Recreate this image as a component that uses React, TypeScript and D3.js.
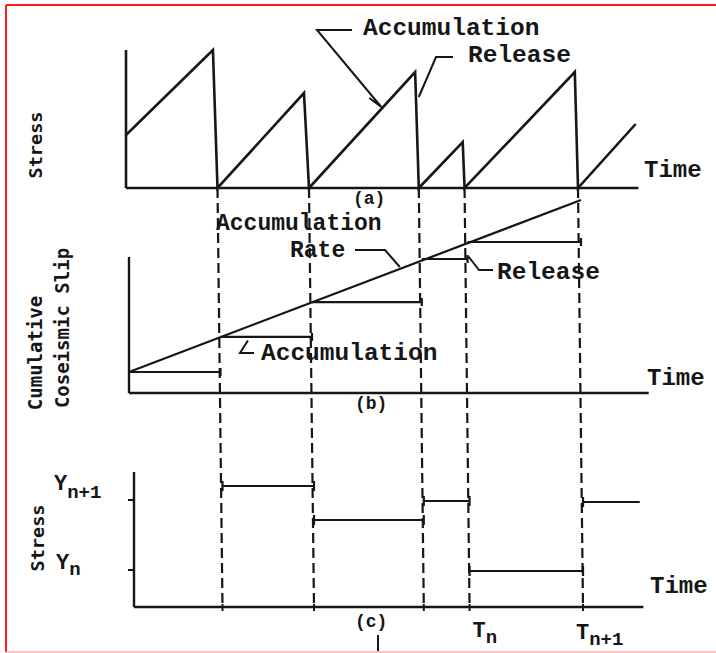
import React from "react";
import * as d3 from "d3";

// ---------- data ----------
// event (earthquake) times, arbitrary time units
const eventTimes = [1.0, 2.0, 3.2, 3.7, 4.94];
// (a) stress sawtooth
const stressStartValue = 5.3;
const stressPeakTimes = [0.95, 1.945, 3.16, 3.68, 4.905];
const stressPeakValues = [13.8, 9.5, 11.6, 4.6, 11.6];
const stressTailTime = 5.57;
const stressTailValue = 6.4;
// (b) cumulative coseismic slip
const slipStepValues = [1.0, 2.67, 4.33, 6.38, 7.19];
const slipRateStartValue = 1.0;
const slipRateEndValue = 9.19;
// (c) stress level between events
const stressLevels = [12.1, 8.7, 10.6, 3.6, 10.5];
const stressLevelEndTime = 5.56;
const stressTickValues = [10.7, 3.7];
const stressTickSubs = ["n+1", "n"];
const timeTickSubs = ["n", "n+1"];

const W = 716;
const H = 653;
const INK = "#161616";
const TYPE = "'Liberation Mono', 'Courier New', monospace";
const SANS = "'DejaVu Sans Mono', monospace";

export default function App() {
  // per-panel scales (scan is slightly skewed)
  const xa = d3.scaleLinear().domain([0, 5.6]).range([126, 126 + 5.6 * 91.5]);
  const xb = d3.scaleLinear().domain([0, 5.6]).range([129, 129 + 5.6 * 91.5]);
  const xc = d3.scaleLinear().domain([0, 5.6]).range([131, 131 + 5.6 * 91.5]);
  const ya = d3.scaleLinear().domain([0, 10]).range([188, 88]);
  const yb = d3.scaleLinear().domain([0, 10]).range([393, 183]);
  const yc = d3.scaleLinear().domain([0, 10]).range([607, 507]);

  const line = d3.line<[number, number]>();

  // (a) sawtooth
  const sawPts: [number, number][] = [[xa(0), ya(stressStartValue)]];
  eventTimes.forEach((t, i) => {
    sawPts.push([xa(stressPeakTimes[i]), ya(stressPeakValues[i])]);
    sawPts.push([xa(t), ya(0)]);
  });
  sawPts.push([xa(stressTailTime), ya(stressTailValue)]);

  // (b) steps
  const stepStarts = [0, ...eventTimes.slice(0, 4)];
  const stepEnds = eventTimes;

  // (c) levels
  const levelStarts = eventTimes;
  const levelEnds = [...eventTimes.slice(1), stressLevelEndTime];

  // annotation anchors (in data space)
  const accTip: [number, number] = [xa(2.79), ya(8.1)];
  const relTip: [number, number] = [xa(3.2), ya(9.1)];
  const rateTip: [number, number] = [xb(2.96), yb(6.0)];
  const relBTip: [number, number] = [xb(3.71), yb(6.5)];
  const accBTip: [number, number] = [xb(1.3), yb(2.5)];

  const tf = { fontFamily: TYPE, fontWeight: 700 as const, fill: INK };
  const sf = { fontFamily: SANS, fontWeight: 600 as const, fill: INK };

  return (
    <svg width={W} height={H} style={{ position: "absolute", left: 0, top: 0, background: "#fff" }}>
      <rect x={0} y={0} width={W} height={H} fill="#fff" />
      {/* frame */}
      <line x1={6} y1={5} x2={W} y2={5} stroke="#ff1a1a" strokeWidth={2} />
      <line x1={6} y1={5} x2={6} y2={652} stroke="#ff1a1a" strokeWidth={2} />
      <line x1={6} y1={652} x2={W} y2={652} stroke="#ffaaaa" strokeWidth={1.5} />

      {/* dashed event lines */}
      {eventTimes.map((t, i) => (
        <line key={"d" + i} x1={xa(t)} y1={ya(0)} x2={xc(t)} y2={yc(0)}
          stroke={INK} strokeWidth={2.2} strokeDasharray="10,5" />
      ))}

      {/* ---------- panel (a) ---------- */}
      <line x1={xa(0)} y1={ya(13.8)} x2={xa(0)} y2={ya(0)} stroke={INK} strokeWidth={2.6} />
      <line x1={xa(0)} y1={ya(0)} x2={xa(5.6)} y2={ya(0)} stroke={INK} strokeWidth={2.4} />
      <path d={line(sawPts) || ""} fill="none" stroke={INK} strokeWidth={2.6} strokeLinejoin="miter" />
      <text transform="translate(42,145) rotate(-90)" textAnchor="middle" fontSize={18.5} {...sf}>Stress</text>
      <text x={644} y={177} fontSize={24} {...tf}>Time</text>
      <text x={353} y={204} fontSize={18} {...tf}>(a)</text>
      <text x={363} y={35} fontSize={24.5} {...tf}>Accumulation</text>
      <path d={`M${352},30 L${317},30 L${accTip[0]},${accTip[1]} M${accTip[0] - 12},${accTip[1] - 9} L${accTip[0]},${accTip[1]}`}
        fill="none" stroke={INK} strokeWidth={2} />
      <text x={468} y={62} fontSize={24.5} {...tf}>Release</text>
      <path d={`M${453},57 L${436},57 L${relTip[0]},${relTip[1]}`} fill="none" stroke={INK} strokeWidth={2} />

      {/* ---------- panel (b) ---------- */}
      <line x1={xb(0)} y1={yb(6.48)} x2={xb(0)} y2={yb(0)} stroke={INK} strokeWidth={2.4} />
      <line x1={xb(0)} y1={yb(0)} x2={xb(5.68)} y2={yb(0)} stroke={INK} strokeWidth={2.4} />
      <line x1={xb(0)} y1={yb(slipRateStartValue)} x2={xb(eventTimes[4])} y2={yb(slipRateEndValue)} stroke={INK} strokeWidth={2.2} />
      {slipStepValues.map((v, i) => (
        <g key={"s" + i}>
          <line x1={xb(stepStarts[i])} y1={yb(v)} x2={xb(stepEnds[i])} y2={yb(v)} stroke={INK} strokeWidth={2.2} />
          <line x1={xb(stepEnds[i])} y1={yb(v) - 4} x2={xb(stepEnds[i])} y2={yb(v) + 4} stroke={INK} strokeWidth={2.2} />
        </g>
      ))}
      <text transform="translate(42,353) rotate(-90)" textAnchor="middle" fontSize={19} {...sf}>Cumulative</text>
      <text transform="translate(69,328) rotate(-90)" textAnchor="middle" fontSize={19} {...sf}>Coseismic Slip</text>
      <text x={647} y={385} fontSize={24} {...tf}>Time</text>
      <text x={355} y={409} fontSize={18} {...tf}>(b)</text>
      <text x={216} y={230} fontSize={23} {...tf}>Accumulation</text>
      <text x={290} y={257} fontSize={23} {...tf}>Rate</text>
      <path d={`M${355},250 L${385},250 L${rateTip[0]},${rateTip[1]}`} fill="none" stroke={INK} strokeWidth={2} />
      <text x={497} y={279} fontSize={24.5} {...tf}>Release</text>
      <path d={`M${relBTip[0]},${relBTip[1]} L${479},270 L${493},270`} fill="none" stroke={INK} strokeWidth={2} />
      <text x={261} y={360} fontSize={24.5} {...tf}>Accumulation</text>
      <path d={`M${accBTip[0]},${accBTip[1]} L${240},353 L${254},353`} fill="none" stroke={INK} strokeWidth={2} />

      {/* ---------- panel (c) ---------- */}
      <line x1={xc(0) + 3} y1={yc(13.5)} x2={xc(0) + 3} y2={yc(0)} stroke={INK} strokeWidth={2.4} />
      <line x1={xc(0) + 3} y1={yc(0)} x2={xc(5.6)} y2={yc(0)} stroke={INK} strokeWidth={2.4} />
      {stressTickValues.map((v, i) => (
        <line key={"t" + i} x1={xc(0) - 3} y1={yc(v)} x2={xc(0) + 3} y2={yc(v)} stroke={INK} strokeWidth={2} />
      ))}
      {stressLevels.map((v, i) => (
        <g key={"l" + i}>
          <line x1={xc(levelStarts[i])} y1={yc(v)} x2={xc(levelEnds[i])} y2={yc(v)} stroke={INK} strokeWidth={2.2} />
          <line x1={xc(levelStarts[i])} y1={yc(v) - 5} x2={xc(levelStarts[i])} y2={yc(v) + 5} stroke={INK} strokeWidth={2.2} />
          {i < 4 && (
            <line x1={xc(levelEnds[i])} y1={yc(v) - 5} x2={xc(levelEnds[i])} y2={yc(v) + 5} stroke={INK} strokeWidth={2.2} />
          )}
        </g>
      ))}
      {eventTimes.map((t, i) => (
        <line key={"bt" + i} x1={xc(t)} y1={yc(0) - 3} x2={xc(t)} y2={yc(0) + 4} stroke={INK} strokeWidth={2} />
      ))}
      <text transform="translate(44,538) rotate(-90)" textAnchor="middle" fontSize={18.5} {...sf}>Stress</text>
      <text x={54} y={yc(stressTickValues[0]) - 10} fontSize={22} {...tf}>
        Y<tspan dy={8} fontSize={19}>{stressTickSubs[0]}</tspan>
      </text>
      <text x={56} y={yc(stressTickValues[1]) - 1} fontSize={22} {...tf}>
        Y<tspan dy={6} fontSize={19}>{stressTickSubs[1]}</tspan>
      </text>
      <text x={xc(eventTimes[3]) + 3} y={637} fontSize={22} {...tf}>
        T<tspan dy={6} fontSize={19}>{timeTickSubs[0]}</tspan>
      </text>
      <text x={xc(eventTimes[4]) - 7} y={639} fontSize={22} {...tf}>
        T<tspan dy={6} fontSize={19}>{timeTickSubs[1]}</tspan>
      </text>
      <text x={650} y={593} fontSize={24} {...tf}>Time</text>
      <text x={355} y={627} fontSize={18} {...tf}>(c)</text>
      <line x1={378} y1={635} x2={378} y2={651} stroke={INK} strokeWidth={2} />
    </svg>
  );
}
